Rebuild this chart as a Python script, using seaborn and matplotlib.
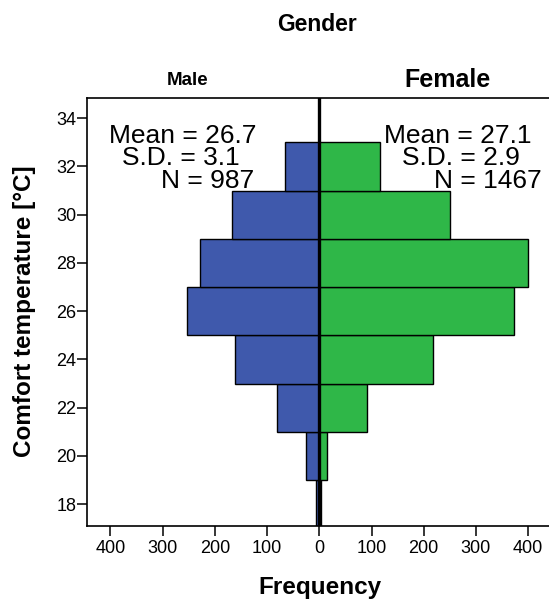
import numpy as np
import pandas as pd
import matplotlib
matplotlib.use("Agg")
import matplotlib.pyplot as plt
import seaborn as sns
from matplotlib.ticker import FuncFormatter

# ---- data ----
bin_centers = [18, 20, 22, 24, 26, 28, 30, 32]
male_counts = [6, 25, 81, 161, 253, 228, 168, 65]
female_counts = [3, 15, 92, 218, 372, 400, 250, 116]
genders = ["Male", "Female"]
male_stats = ["Mean = 26.7", "S.D. = 3.1", "N = 987"]
female_stats = ["Mean = 27.1", "S.D. = 2.9", "N = 1467"]
x_ticks = [-400, -300, -200, -100, 0, 100, 200, 300, 400]
y_ticks = [18, 20, 22, 24, 26, 28, 30, 32, 34]

sns.set_theme(style="white")
plt.rcParams["font.family"] = ["Liberation Sans", "DejaVu Sans"]
plt.rcParams["text.color"] = "black"
plt.rcParams["axes.labelcolor"] = "black"

df = pd.DataFrame({
    "temp": bin_centers * 2,
    "freq": [-c for c in male_counts] + female_counts,
    "gender": [genders[0]] * len(bin_centers) + [genders[1]] * len(bin_centers),
})

W, H = 549, 604
fig = plt.figure(figsize=(W / 100, H / 100), dpi=100)
ax = fig.add_axes([87.3 / W, 1 - 525.7 / H, (W - 87.3) / W, (525.7 - 97.7) / H])

sns.barplot(data=df, x="freq", y="temp", hue="gender", orient="y",
            native_scale=True, dodge=False, width=1.0, saturation=1,
            palette={"Male": "#3F59AC", "Female": "#2FB748"},
            edgecolor="black", linewidth=1.0, legend=False, ax=ax)

ax.set_xlim(-444.4, 440)
ax.set_ylim(17.11, 34.85)
ax.axvline(0, color="black", lw=2.4, zorder=5)

ax.set_xticks(x_ticks)
ax.xaxis.set_major_formatter(FuncFormatter(lambda v, p: f"{abs(int(round(v)))}"))
ax.set_yticks(y_ticks)
ax.tick_params(axis="both", which="major", direction="out", length=7, width=1.1,
               color="black", labelsize=13, labelcolor="black")
ax.tick_params(axis="y", pad=1)
ax.tick_params(axis="x", pad=3)
ax.xaxis.set_ticks_position("bottom")
ax.yaxis.set_ticks_position("left")

for s in ["left", "top", "bottom"]:
    ax.spines[s].set_visible(True)
    ax.spines[s].set_color("black")
    ax.spines[s].set_linewidth(1.2)
ax.spines["right"].set_visible(False)

ax.set_xlabel("")
ax.set_ylabel("")

# stats text
male_x = [-262, -266, -214]
female_x = [265.7, 271.5, 323]
base_y = [32.99, 32.08, 31.12]
for t, xx, yy in zip(male_stats, male_x, base_y):
    ax.text(xx, yy, t, ha="center", va="baseline", fontsize=19, color="black", zorder=6)
for t, xx, yy in zip(female_stats, female_x, base_y):
    ax.text(xx, yy, t, ha="center", va="baseline", fontsize=19, color="black", zorder=6)

# figure-level labels (pixel positions)
def ftxt(px, py, s, **kw):
    fig.text(px / W, 1 - py / H, s, color="black", **kw)

ftxt(317, 31, "Gender", ha="center", va="baseline", fontsize=16.5, fontweight="bold")
ftxt(188, 85, "Male", ha="center", va="baseline", fontsize=13.5, fontweight="bold")
ftxt(447, 86.8, "Female", ha="center", va="baseline", fontsize=18, fontweight="bold")
ftxt(320, 594, "Frequency", ha="center", va="baseline", fontsize=17.5, fontweight="bold")
ftxt(25, 311, "Comfort temperature [°C]", ha="center", va="center", rotation=90,
     fontsize=17.5, fontweight="bold")

fig.savefig("out.png", dpi=100, facecolor="white")
